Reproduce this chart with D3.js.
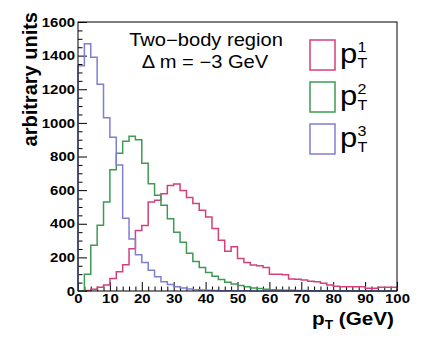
<!DOCTYPE html>
<html>
<head>
<meta charset="utf-8">
<script src="https://cdn.jsdelivr.net/npm/d3@7"></script>
<style>
  body { margin: 0; background: #fff; }
  svg { display: block; }
  text { font-family: "Liberation Sans", Arial, Helvetica, sans-serif; fill: #000; }
</style>
</head>
<body>
<script>
(function () {

    //bin width in GeV, 50 bins from 0 to 100
    var binWidth = 2;

    //p_T^1 (pink)
    var pt1 = [0, 3, 10, 22, 36, 75, 114, 156, 252, 360,
               390, 530, 540, 578, 628, 636, 598, 556, 520, 480,
               440, 372, 302, 237, 263, 194, 170, 154, 150, 140,
               100, 100, 97, 72, 70, 66, 58, 55, 46, 36,
               28, 26, 26, 25, 26, 17, 16, 22, 22, 22];

    //p_T^2 (green)
    var pt2 = [0, 100, 272, 391, 530, 721, 820, 890, 920, 900,
               760, 638, 569, 510, 430, 350, 290, 225, 175, 140,
               110, 88, 68, 52, 42, 32, 25, 18, 15, 10,
               8, 6, 5, 4, 3, 3, 2, 2, 1, 1,
               1, 1, 1, 0, 0, 0, 0, 0, 0, 0];

    //p_T^3 (blue)
    var pt3 = [1340, 1470, 1390, 1230, 1030, 915, 750, 432, 310, 215,
               170, 124, 85, 55, 38, 26, 18, 12, 8, 6,
               4, 3, 2, 2, 1, 1, 1, 0, 0, 0,
               0, 0, 0, 0, 0, 0, 0, 0, 0, 0,
               0, 0, 0, 0, 0, 0, 0, 0, 0, 0];

    var xMajor = [0, 10, 20, 30, 40, 50, 60, 70, 80, 90, 100];
    var yMajor = [0, 200, 400, 600, 800, 1000, 1200, 1400, 1600];

    var seriesNames = ["1", "2", "3"];
    var seriesColors = ["#d4407c", "#3f9a55", "#7f7fd2"];

    var width = 437,
        height = 347;

    //stretch factor for text (the reference is wider than tall)
    var sx = 1.15;

    var svg = d3.select("body")
        .append("svg")
        .attr("width", width)
        .attr("height", height);

    var x = d3.scaleLinear().domain([0, 100]).range([78, 397]);
    var y = d3.scaleLinear().domain([0, 1600]).range([291, 22]);

    //minor ticks
    var xMinor = d3.range(0, 101, 2).filter(function (d) { return d % 10 !== 0; });
    var yMinor = d3.range(0, 1601, 50).filter(function (d) { return d % 200 !== 0; });

    svg.append("g")
        .attr("transform", "translate(0," + y(0) + ")")
        .call(d3.axisBottom(x).tickValues(xMinor).tickSize(-4.5).tickFormat(""))
        .call(function (g) { g.select(".domain").remove(); });

    svg.append("g")
        .attr("transform", "translate(" + x(0) + ",0)")
        .call(d3.axisLeft(y).tickValues(yMinor).tickSize(-4.5).tickFormat(""))
        .call(function (g) { g.select(".domain").remove(); });

    //major ticks with labels
    var xAxis = svg.append("g")
        .attr("class", "x axis")
        .attr("transform", "translate(0," + y(0) + ")")
        .call(d3.axisBottom(x).tickValues(xMajor).tickSize(-9).tickPadding(3).tickFormat(d3.format("d")));
    xAxis.select(".domain").remove();

    var yAxis = svg.append("g")
        .attr("class", "y axis")
        .attr("transform", "translate(" + x(0) + ",0)")
        .call(d3.axisLeft(y).tickValues(yMajor).tickSize(-9).tickPadding(3).tickFormat(d3.format("d")));
    yAxis.select(".domain").remove();

    svg.selectAll(".axis text")
        .attr("font-family", null)
        .style("font-size", "13px")
        .style("font-weight", "bold")
        .attr("transform", "scale(" + sx + ",1)");
    svg.selectAll(".y.axis text").attr("x", -3 / sx);

    svg.selectAll(".tick line").attr("stroke", "#000").attr("stroke-width", 1);

    //histograms
    var line = d3.line()
        .curve(d3.curveStepAfter)
        .x(function (d) { return x(d[0]); })
        .y(function (d) { return y(d[1]); });

    [pt1, pt2, pt3].forEach(function (vals, k) {
        var pts = [[0, 0]];
        vals.forEach(function (v, i) { pts.push([i * binWidth, v]); });
        pts.push([vals.length * binWidth, vals[vals.length - 1]]);
        pts.push([vals.length * binWidth, 0]);
        svg.append("path")
            .datum(pts)
            .attr("fill", "none")
            .attr("stroke", seriesColors[k])
            .attr("stroke-width", 1.5)
            .attr("d", line);
    });

    //frame
    svg.append("rect")
        .attr("x", x(0))
        .attr("y", y(1600))
        .attr("width", x(100) - x(0))
        .attr("height", y(0) - y(1600))
        .attr("fill", "none")
        .attr("stroke", "#000")
        .attr("stroke-width", 1);

    //helper for horizontally stretched text
    function label(px, py, str, size, weight, anchor) {
        return svg.append("text")
            .attr("transform", "translate(" + px + "," + py + ") scale(" + sx + ",1)")
            .attr("text-anchor", anchor || "start")
            .style("font-size", size + "px")
            .style("font-weight", weight || "normal")
            .text(str);
    }

    //title text
    label(206, 46, "Two\u2212body region", 17.5, "normal", "middle");
    label(205, 68, "\u0394 m = \u22123 GeV", 17.5, "normal", "middle");

    //axis titles
    var xt = label(312, 325, "", 18, "bold", "start");
    xt.append("tspan").text("p");
    xt.append("tspan").attr("dy", 4).style("font-size", "12px").text("T");
    xt.append("tspan").attr("dy", -4).text(" (GeV)");

    svg.append("text")
        .attr("transform", "translate(37,12) rotate(-90)")
        .attr("text-anchor", "end")
        .style("font-size", "20px")
        .style("font-weight", "bold")
        .text("arbitrary units");

    //legend
    var legendTop = [40, 82, 124];
    seriesNames.forEach(function (name, k) {
        svg.append("rect")
            .attr("x", 310)
            .attr("y", legendTop[k])
            .attr("width", 25)
            .attr("height", 30)
            .attr("fill", "#fff")
            .attr("stroke", seriesColors[k])
            .attr("stroke-width", 1.5);
        var lt = label(340, legendTop[k] + 23, "", 27, "normal", "start");
        lt.append("tspan").text("p");
        lt.append("tspan").attr("x", 15.3).attr("y", -11).style("font-size", "14px").text(name);
        lt.append("tspan").attr("x", 15.3).attr("y", 5).style("font-size", "14px").text("T");
    });

})();
</script>
</body>
</html>
